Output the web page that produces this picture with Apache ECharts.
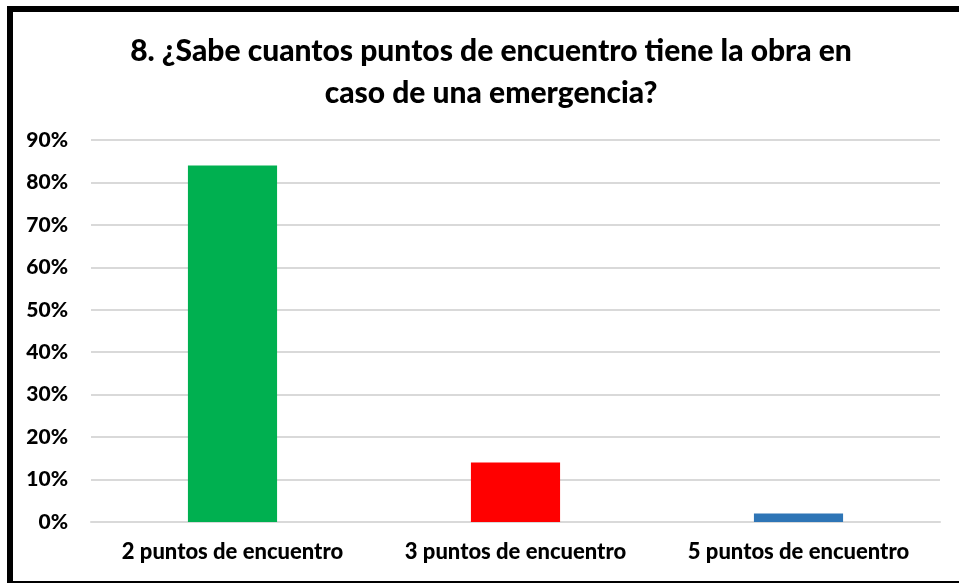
<!DOCTYPE html>
<html>
<head>
<meta charset="utf-8">
<script src="https://cdn.jsdelivr.net/npm/echarts@6/dist/echarts.min.js"></script>
<style>
  html, body { margin: 0; padding: 0; background: #fff; }
  #chart { width: 959px; height: 583px; }
  #frame {
    position: absolute; left: 7px; top: 6px; width: 960px; height: 569px;
    border-left: 6px solid #000; border-top: 6px solid #000; border-bottom: 2px solid #000;
    pointer-events: none;
  }
</style>
</head>
<body>
<div id="chart"></div>
<div id="frame"></div>
<script>
const titleText = '8. ¿Sabe cuantos puntos de encuentro tiene la obra en\ncaso de una emergencia?';
const categories = ['2 puntos de encuentro', '3 puntos de encuentro', '5 puntos de encuentro'];
const values = [84, 14, 2];
const barColors = ['#00b050', '#ff0000', '#2e75b6'];

const chart = echarts.init(document.getElementById('chart'));
const font = 'Lato, "Noto Sans", sans-serif';

chart.setOption({
  animation: false,
  title: {
    text: titleText,
    left: 486,
    top: 25,
    textAlign: 'center',
    textStyle: {
      fontFamily: font,
      fontWeight: 900,
      fontSize: 30,
      lineHeight: 42,
      color: '#000'
    }
  },
  grid: { left: 91, right: 19, top: 140, bottom: 61 },
  xAxis: {
    type: 'category',
    data: categories,
    axisLine: { lineStyle: { color: '#d9d9d9', width: 2 } },
    axisTick: { show: false },
    axisLabel: {
      interval: 0,
      hideOverlap: false,
      fontFamily: font, fontWeight: 900, fontSize: 22, color: '#000', margin: 19
    }
  },
  yAxis: {
    type: 'value',
    min: 0,
    max: 90,
    interval: 10,
    axisLine: { show: false },
    axisTick: { show: false },
    splitLine: { lineStyle: { color: '#d9d9d9', width: 2 } },
    axisLabel: {
      formatter: '{value}%',
      fontFamily: font, fontWeight: 900, fontSize: 21, color: '#000', margin: 23
    }
  },
  series: [{
    type: 'bar',
    barWidth: '31.5%',
    data: values.map((v, i) => ({ value: v, itemStyle: { color: barColors[i] } }))
  }]
});
</script>
</body>
</html>
